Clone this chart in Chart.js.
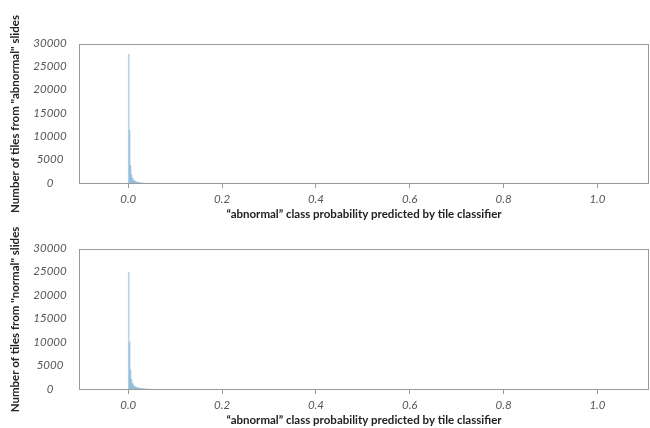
<!DOCTYPE html>
<html>
<head>
<meta charset="utf-8">
<script src="https://cdn.jsdelivr.net/npm/chart.js@4/dist/chart.umd.min.js"></script>
<style>
  html, body { margin: 0; padding: 0; background: #fff; }
  #wrap { position: relative; width: 650px; height: 428px; }
  canvas { position: absolute; left: 0; }
</style>
</head>
<body>
<div id="wrap">
  <canvas id="top-hist" width="650" height="222" style="top:0"></canvas>
  <canvas id="bottom-hist" width="650" height="206" style="top:222px"></canvas>
</div>
<script>
// histogram bins near zero, width 0.002
const binWidth = 0.002;
const abnormalCounts = [27800, 11500, 4000, 2000, 1300, 900, 700, 560, 460, 390, 340, 300, 270, 250, 230, 210, 190, 170, 150, 130, 110, 90, 70, 55, 40, 30];
const normalCounts = [25000, 10200, 4250, 2200, 1450, 1050, 820, 670, 570, 500, 440, 400, 360, 330, 300, 280, 260, 240, 225, 210, 200, 190, 180, 170, 160, 150, 140, 130, 125, 120, 115, 110, 105, 100, 95, 90, 85, 80];

// long thin tail out to 1.0
const tailX = [0.08, 0.1, 0.2, 0.3, 0.4, 0.5, 0.6, 0.7, 0.8, 0.9, 1.0];
const abnormalTail = [25, 20, 12, 10, 10, 10, 10, 10, 10, 12, 15];
const normalTail = [80, 70, 45, 40, 45, 55, 60, 60, 60, 55, 30];

const xTicks = [0.0, 0.2, 0.4, 0.6, 0.8, 1.0];
const yTicks = [0, 5000, 10000, 15000, 20000, 25000, 30000];
const xTitle = "\u201cabnormal\u201d class probability predicted by tile classifier";

const barColor = "rgba(31, 119, 180, 0.32)";
const tickFont = { family: "Lato", size: 11.5, style: "italic" };
const titleFont = { family: "Lato", size: 11.5, weight: "bold" };

const frame = {
    id: "frame",
    afterDraw(chart) {
        const a = chart.chartArea;
        const ctx = chart.ctx;
        ctx.save();
        ctx.strokeStyle = "#9a9a9a";
        ctx.lineWidth = 1;
        ctx.strokeRect(a.left + 0.5, a.top + 0.5, a.right - a.left - 1, a.bottom - a.top - 1);
        // y tick labels, centred in their column
        const y = chart.scales.y;
        ctx.font = "italic 11.5px Lato";
        ctx.fillStyle = "#555";
        ctx.textAlign = "center";
        ctx.textBaseline = "middle";
        yTicks.forEach((v) => {
            ctx.fillText(String(v), a.left - 29, y.getPixelForValue(v) - 1);
        });
        ctx.restore();
    },
};

const makeChart = (id, counts, tail, yTitle, topPad) => {
    const bars = counts.map((v, i) => ({ x: i * binWidth + binWidth / 2, y: v }));
    const tailPts = tailX.map((x, i) => ({ x: x, y: tail[i] }));
    new Chart(document.getElementById(id), {
        type: "bar",
        data: {
            datasets: [
                {
                    data: bars,
                    backgroundColor: barColor,
                    borderWidth: 0,
                    barPercentage: 1,
                    categoryPercentage: 1,
                    grouped: false,
                },
                {
                    type: "line",
                    data: tailPts,
                    backgroundColor: barColor,
                    borderColor: barColor,
                    borderWidth: 0,
                    pointRadius: 0,
                    fill: "origin",
                },
            ],
        },
        options: {
            responsive: false,
            animation: false,
            devicePixelRatio: 1,
            layout: { padding: { top: topPad, right: 1, left: 0, bottom: 0 } },
            plugins: { legend: { display: false }, tooltip: { enabled: false } },
            scales: {
                x: {
                    type: "linear",
                    min: -0.105,
                    max: 1.11,
                    offset: false,
                    afterBuildTicks: (s) => {
                        s.ticks = xTicks.map((v) => ({ value: v }));
                    },
                    afterFit: (s) => {
                        s.height = 38;
                    },
                    ticks: {
                        font: tickFont,
                        color: "#555",
                        padding: 4,
                        maxRotation: 0,
                        callback: (v) => v.toFixed(1),
                    },
                    grid: { display: true, offset: false, drawOnChartArea: false, tickLength: 4, color: "#999" },
                    border: { display: false },
                    title: { display: true, text: xTitle, font: titleFont, color: "#222", padding: { top: 0, bottom: 1 } },
                },
                y: {
                    min: 0,
                    max: 30000,
                    afterFit: (s) => {
                        s.width = 79;
                    },
                    ticks: { display: false, stepSize: 5000 },
                    grid: { display: false },
                    border: { display: false },
                    title: { display: true, text: yTitle, font: titleFont, color: "#222", padding: { top: 8, bottom: 0 } },
                },
            },
        },
        plugins: [frame],
    });
};

makeChart("top-hist", abnormalCounts, abnormalTail, 'Number of tiles from "abnormal" slides', 44);
makeChart("bottom-hist", normalCounts, normalTail, 'Number of tiles from "normal" slides', 27);
</script>
</body>
</html>
